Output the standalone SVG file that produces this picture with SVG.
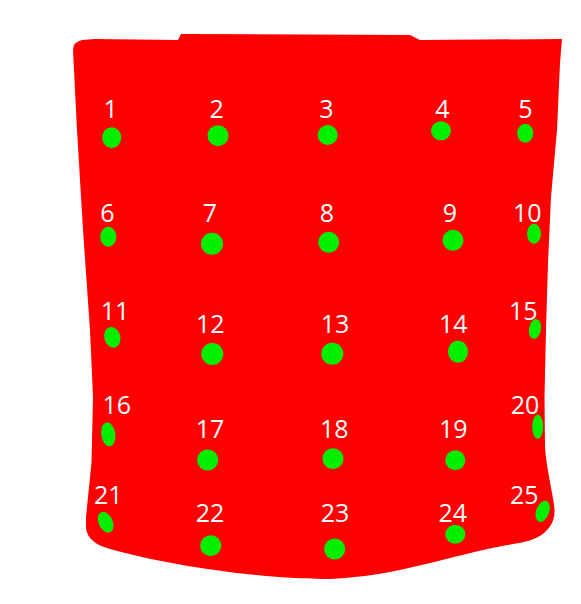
<svg xmlns="http://www.w3.org/2000/svg" width="581" height="604" viewBox="0 0 581 604">
<style>
.lbl{font-family:"Open Sans","Liberation Sans",sans-serif;font-size:25px;fill:#ffffff;text-anchor:middle}
.dot{fill:#00f000}
</style>
<rect x="0" y="0" width="581" height="604" fill="#ffffff"/>
<path id="body" fill="#ff0000" d="M 73,50 Q 73,42 82,40 L 95,39 L 178,40 L 181,34 L 410,35 L 420,40 L 562,39 L 560,63 L 557,130 L 551,197 L 548,263 L 546,330 L 544.5,397 L 545,447 C 546,465 552,490 554,505 C 556,518 552,526 544,533 C 535,540 525,542 513,544 C 450,555 400,576 330,579 C 270,580 170,566 110,549 C 95,545 87,538 86,528 L 86,517 L 88,497 L 91.5,463 L 93,397 L 90,330 L 83,230 L 77,130 Z"/>
<g id="p1"><ellipse class="dot" cx="111.7" cy="137.7" rx="9.5" ry="10.5"/><text class="lbl" x="110.7" y="117.5">1</text></g>
<g id="p2"><ellipse class="dot" cx="218" cy="135.7" rx="10.5" ry="10.5"/><text class="lbl" x="216.7" y="117.5">2</text></g>
<g id="p3"><ellipse class="dot" cx="327.7" cy="135" rx="10" ry="10"/><text class="lbl" x="326.3" y="117.5">3</text></g>
<g id="p4"><ellipse class="dot" cx="441" cy="130.7" rx="10" ry="9.5"/><text class="lbl" x="442.3" y="117.5">4</text></g>
<g id="p5"><ellipse class="dot" cx="525.3" cy="133.3" rx="8" ry="9.5"/><text class="lbl" x="525.3" y="117.5">5</text></g>
<g id="p6"><ellipse class="dot" cx="108.3" cy="236.7" rx="8" ry="10"/><text class="lbl" x="107.3" y="222">6</text></g>
<g id="p7"><ellipse class="dot" cx="212" cy="243.7" rx="11" ry="11"/><text class="lbl" x="210" y="222">7</text></g>
<g id="p8"><ellipse class="dot" cx="328.7" cy="242.3" rx="10.5" ry="10.5"/><text class="lbl" x="327" y="222">8</text></g>
<g id="p9"><ellipse class="dot" cx="453" cy="240.3" rx="10.5" ry="10.5"/><text class="lbl" x="450" y="222">9</text></g>
<g id="p10"><ellipse class="dot" cx="534" cy="233.7" rx="7" ry="10"/><text class="lbl" x="527.3" y="222">10</text></g>
<g id="p11"><ellipse class="dot" cx="112.3" cy="337.3" rx="8" ry="10.5" transform="rotate(-15 112.3 337.3)"/><text class="lbl" x="115" y="320">11</text></g>
<g id="p12"><ellipse class="dot" cx="212.3" cy="354" rx="11" ry="11"/><text class="lbl" x="210.3" y="332.5">12</text></g>
<g id="p13"><ellipse class="dot" cx="332.3" cy="353.7" rx="11" ry="11"/><text class="lbl" x="335" y="332.5">13</text></g>
<g id="p14"><ellipse class="dot" cx="458" cy="351.7" rx="10" ry="11"/><text class="lbl" x="453.3" y="332.5">14</text></g>
<g id="p15"><ellipse class="dot" cx="535" cy="329" rx="6" ry="10" transform="rotate(10 535 329)"/><text class="lbl" x="523.3" y="320">15</text></g>
<g id="p16"><ellipse class="dot" cx="108.3" cy="434.3" rx="7" ry="12" transform="rotate(-8 108.3 434.3)"/><text class="lbl" x="116.7" y="414">16</text></g>
<g id="p17"><ellipse class="dot" cx="207.7" cy="460" rx="10.5" ry="10.5"/><text class="lbl" x="210" y="437.5">17</text></g>
<g id="p18"><ellipse class="dot" cx="333" cy="458.7" rx="10.5" ry="10.5"/><text class="lbl" x="334.3" y="437.5">18</text></g>
<g id="p19"><ellipse class="dot" cx="455.3" cy="460.3" rx="10" ry="10"/><text class="lbl" x="453.3" y="437.5">19</text></g>
<g id="p20"><ellipse class="dot" cx="537.7" cy="426.7" rx="5.5" ry="12"/><text class="lbl" x="525" y="414">20</text></g>
<g id="p21"><ellipse class="dot" cx="105.7" cy="522.3" rx="7" ry="11" transform="rotate(-25 105.7 522.3)"/><text class="lbl" x="108.3" y="504">21</text></g>
<g id="p22"><ellipse class="dot" cx="210.7" cy="545.7" rx="10.5" ry="10.5"/><text class="lbl" x="210" y="521.7">22</text></g>
<g id="p23"><ellipse class="dot" cx="334.7" cy="549" rx="10.5" ry="10.5"/><text class="lbl" x="335" y="521.7">23</text></g>
<g id="p24"><ellipse class="dot" cx="455.3" cy="534.3" rx="10" ry="9.5"/><text class="lbl" x="452.7" y="521.7">24</text></g>
<g id="p25"><ellipse class="dot" cx="542.7" cy="511.3" rx="6.5" ry="11" transform="rotate(20 542.7 511.3)"/><text class="lbl" x="524.3" y="504">25</text></g>
</svg>
